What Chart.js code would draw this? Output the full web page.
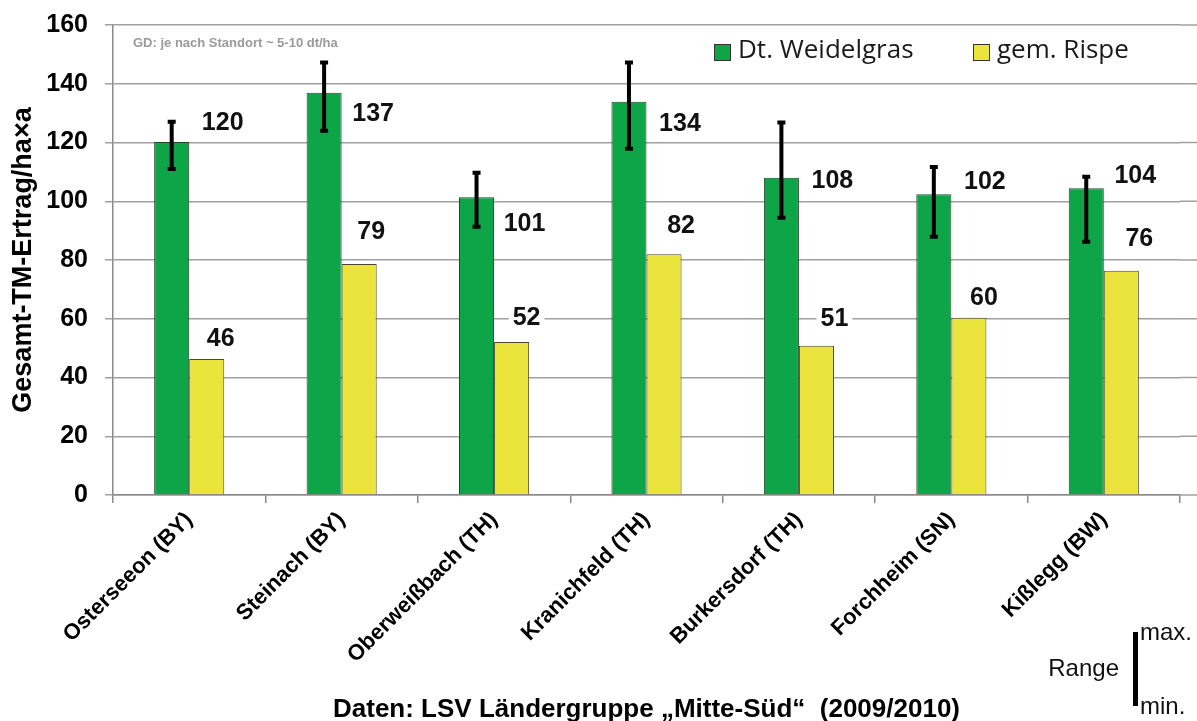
<!DOCTYPE html>
<html>
<head>
<meta charset="utf-8">
<script src="https://cdn.jsdelivr.net/npm/chart.js@4/dist/chart.umd.min.js"></script>
<style>
    html, body { margin: 0; padding: 0; background: #fff; }
    #wrap { width: 1197px; height: 721px; position: relative; }
</style>
</head>
<body>
<div id="wrap"><canvas id="grafik"></canvas></div>
<script>
// Daten
const standorte = ['Osterseeon (BY)', 'Steinach (BY)', 'Oberweißbach (TH)', 'Kranichfeld (TH)',
    'Burkersdorf (TH)', 'Forchheim (SN)', 'Kißlegg (BW)'];
const weidelgras = [120.2, 136.9, 101.4, 133.9, 108.0, 102.4, 104.4];
const rispe = [46.3, 78.6, 52.1, 82.0, 50.8, 60.3, 76.3];
const weidelgrasMax = [127.1, 147.2, 109.7, 147.2, 126.8, 111.7, 108.3];
const weidelgrasMin = [111.0, 124.0, 91.3, 117.9, 94.4, 87.9, 86.2];
const yTicks = [0, 20, 40, 60, 80, 100, 120, 140, 160];

const serienNamen = ['Dt. Weidelgras', 'gem. Rispe'];
const farben = ['#0ea548', '#ebe43c'];

// Verschiebung der Beschriftungen [dx, dy] in px (manuell wie im Original)
const labelVersatz = [
    [[51, -20], [49, 20], [48, 26], [51, 21], [51, 2], [51, -13], [49, -13]],
    [[14, -21], [12, -33], [15, -25], [17, -29], [18, -28], [15, -21], [18, -33]]
];

// --- Plugin: Fehlerbalken (Range) ---
const rangePlugin = {
    id: 'rangeBalken',
    afterDatasetsDraw(chart) {
        const ctx = chart.ctx;
        const y = chart.scales.y;
        const meta = chart.getDatasetMeta(0);
        ctx.save();
        ctx.strokeStyle = '#000';
        ctx.lineWidth = 4;
        meta.data.forEach((bar, i) => {
            const yTop = y.getPixelForValue(weidelgrasMax[i]);
            const yBot = y.getPixelForValue(weidelgrasMin[i]);
            ctx.beginPath();
            ctx.moveTo(bar.x, yTop);
            ctx.lineTo(bar.x, yBot);
            ctx.moveTo(bar.x - 4, yTop);
            ctx.lineTo(bar.x + 4, yTop);
            ctx.moveTo(bar.x - 4, yBot);
            ctx.lineTo(bar.x + 4, yBot);
            ctx.stroke();
        });
        ctx.restore();
    }
};

// --- Plugin: Werte, Legende, Hinweise ---
const textPlugin = {
    id: 'texte',
    beforeDatasetsDraw(chart) {
        // Gitterlinien bis zum rechten Rand verlaengern
        const ctx = chart.ctx;
        const area = chart.chartArea;
        ctx.save();
        ctx.strokeStyle = '#a0a0a0';
        ctx.lineWidth = 1.5;
        yTicks.forEach(v => {
            const py = chart.scales.y.getPixelForValue(v);
            ctx.beginPath();
            ctx.moveTo(area.right, py);
            ctx.lineTo(chart.width, py);
            ctx.stroke();
        });
        ctx.restore();
    },
    afterDraw(chart) {
        const ctx = chart.ctx;
        ctx.save();

        // Werte an den Balken
        ctx.font = 'bold 25px "Liberation Sans", Arial, sans-serif';
        ctx.textAlign = 'center';
        ctx.textBaseline = 'middle';
        chart.data.datasets.forEach((ds, d) => {
            chart.getDatasetMeta(d).data.forEach((bar, i) => {
                const txt = String(Math.round(ds.data[i]));
                const x = bar.x + labelVersatz[d][i][0];
                const y = bar.y + labelVersatz[d][i][1];
                const w = ctx.measureText(txt).width;
                ctx.fillStyle = '#fff';
                ctx.fillRect(x - w / 2 - 4, y - 11, w + 8, 22);
                ctx.fillStyle = '#111';
                ctx.fillText(txt, x, y + 1);
            });
        });

        // GD Hinweis
        ctx.font = 'bold 13px "Liberation Sans", Arial, sans-serif';
        ctx.fillStyle = '#9a9a9a';
        ctx.textAlign = 'left';
        ctx.fillText('GD: je nach Standort ~ 5-10 dt/ha', 133, 43);

        // Legende
        const legX = [714, 973];
        ctx.font = '26px "Open Sans", sans-serif';
        serienNamen.forEach((name, k) => {
            ctx.fillStyle = farben[k];
            ctx.fillRect(legX[k], 44, 16, 16);
            ctx.strokeStyle = '#333';
            ctx.lineWidth = 1;
            ctx.strokeRect(legX[k] + 0.5, 44.5, 16, 16);
            ctx.fillStyle = '#1a1a1a';
            ctx.fillText(name, legX[k] + 24, 51);
        });

        // Range-Erklaerung
        ctx.font = '24px "Liberation Sans", Arial, sans-serif';
        ctx.fillStyle = '#111';
        ctx.textAlign = 'right';
        ctx.fillText('Range', 1119, 669);
        ctx.textAlign = 'left';
        ctx.fillText('max.', 1140, 633);
        ctx.fillText('min.', 1140, 707);
        ctx.fillStyle = '#000';
        ctx.fillRect(1133, 632, 5, 74);

        ctx.restore();
    }
};

const ctx = document.getElementById('grafik').getContext('2d');
new Chart(ctx, {
    type: 'bar',
    data: {
        labels: standorte,
        datasets: [
            {
                label: serienNamen[0],
                data: weidelgras,
                backgroundColor: farben[0],
                borderColor: '#24452c',
                borderWidth: 1
            },
            {
                label: serienNamen[1],
                data: rispe,
                backgroundColor: farben[1],
                borderColor: '#4a4a2a',
                borderWidth: 1
            }
        ]
    },
    options: {
        responsive: true,
        maintainAspectRatio: false,
        animation: false,
        layout: { padding: { left: 0, right: 17, top: 25, bottom: 0 } },
        datasets: { bar: { categoryPercentage: 0.46, barPercentage: 1.0 } },
        scales: {
            x: {
                afterFit(scale) {
                    scale.height = 226;
                    scale.paddingLeft = 0;
                    scale.paddingRight = 0;
                },
                grid: { offset: true, drawOnChartArea: false, tickLength: 8, color: '#8a8a8a', lineWidth: 1.5 },
                border: { color: '#8a8a8a', width: 1.5 },
                ticks: {
                    minRotation: 45, maxRotation: 45, padding: 4,
                    color: '#000',
                    font: { family: '"Liberation Sans", Arial, sans-serif', size: 22, weight: 'bold' }
                },
                title: {
                    display: true,
                    text: 'Daten: LSV Ländergruppe „Mitte-Süd“  (2009/2010)',
                    color: '#000',
                    padding: { top: 0, bottom: -4 },
                    font: { family: '"Liberation Sans", Arial, sans-serif', size: 26, weight: 'bold' }
                }
            },
            y: {
                min: 0, max: 160,
                afterFit(scale) {
                    scale.width = 113;
                    scale.paddingTop = 0;
                    scale.paddingBottom = 0;
                },
                afterBuildTicks(scale) { scale.ticks = yTicks.map(v => ({ value: v })); },
                grid: { color: '#a0a0a0', lineWidth: 1.5, tickLength: 8 },
                border: { color: '#8a8a8a', width: 1.5 },
                ticks: {
                    padding: 17,
                    color: '#000',
                    font: { family: '"Liberation Sans", Arial, sans-serif', size: 25, weight: 'bold' }
                },
                title: {
                    display: true,
                    text: 'Gesamt-TM-Ertrag/ha×a',
                    color: '#000',
                    padding: { top: 7, bottom: 0 },
                    font: { family: '"Liberation Sans", Arial, sans-serif', size: 27, weight: 'bold' }
                }
            }
        },
        plugins: {
            legend: { display: false },
            tooltip: { enabled: false }
        }
    },
    plugins: [rangePlugin, textPlugin]
});
</script>
</body>
</html>
